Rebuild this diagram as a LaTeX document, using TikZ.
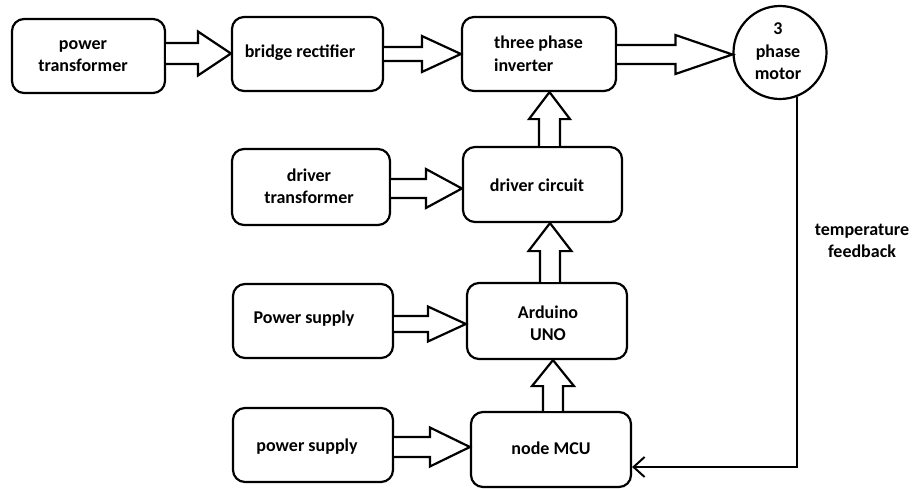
\documentclass[tikz,border=0pt]{standalone}
\usepackage{fontspec}
\setmainfont{Carlito}
\usetikzlibrary{calc,arrows.meta}
\tikzset{
  box/.style={draw, line width=2.2pt, rounded corners=12pt, minimum width=#1, inner sep=0pt},
  txt/.style={font=\bfseries\fontsize{18}{22.5}\selectfont, align=center, inner sep=0pt},
  blk/.style={draw, line width=2.2pt, fill=white, line join=miter},
  fbline/.style={draw, line width=2.2pt, -{Straight Barb[length=11pt,width=20pt,line width=2pt]}}
}
% horizontal block arrow: src, dst, y, shaft half, head half, head length
\newcommand\hblk[6]{%
  \path (#2.west |- 0,#3) coordinate (t);
  \path (#1.east |- t) coordinate (s);
  \draw[blk] ($(s)+(0,#4)$) -- ($(t)+(-#6,#4)$) -- ($(t)+(-#6,#5)$) -- (t)
    -- ($(t)+(-#6,-#5)$) -- ($(t)+(-#6,-#4)$) -- ($(s)+(0,-#4)$);
}
% vertical block arrow (upwards): src, dst, x, shaft half, head half, head length
\newcommand\vblk[6]{%
  \path (#2.south -| #3,0) coordinate (t);
  \path (#1.north -| t) coordinate (s);
  \draw[blk] ($(s)+(#4,0)$) -- ($(t)+(#4,#6)$) -- ($(t)+(#5,#6)$) -- (t)
    -- ($(t)+(-#5,#6)$) -- ($(t)+(-#4,#6)$) -- ($(s)+(-#4,0)$);
}
\begin{document}
\begin{tikzpicture}[x=1pt,y=-1pt]
\useasboundingbox (0,0) rectangle (914,488);
% boxes
\node[box=153pt, minimum height=74pt] (pt)  at (88.5,56) {};
\node[box=151pt, minimum height=74pt] (br)  at (307.5,54) {};
\node[box=154pt, minimum height=74pt] (inv) at (539,54) {};
\node[draw, line width=2.2pt, circle, minimum size=93pt, inner sep=0pt] (motor) at (780,52.5) {};
\node[box=158pt, minimum height=76pt] (dt)  at (311,187) {};
\node[box=159pt, minimum height=75pt] (dc)  at (542.5,184.5) {};
\node[box=160pt, minimum height=74pt] (ps1) at (313,321) {};
\node[box=160pt, minimum height=76pt] (ard) at (547,321) {};
\node[box=160pt, minimum height=74pt] (ps2) at (313,445) {};
\node[box=160pt, minimum height=75pt] (mcu) at (551,449.5) {};
% texts
\node[txt] (pt-t)  at (83,56) {power\\transformer};
\node[txt] (br-t)  at (300,53) {bridge rectifier};
\node[txt, align=left] (inv-t) at (538.5,53.5) {three phase\\inverter};
\node[txt] (mot-t) at (778,51.5) {3\\phase\\motor};
\node[txt] (dt-t)  at (309,186) {driver\\transformer};
\node[txt] (dc-t)  at (537,185) {driver circuit};
\node[txt] (ps1-t) at (304,319) {Power supply};
\node[txt] (ard-t) at (548,323) {Arduino\\UNO};
\node[txt] (ps2-t) at (307,447) {power supply};
\node[txt] (mcu-t) at (551,448) {node MCU};
\node[txt] (fb-t)  at (862,241) {temperature\\feedback};
% block arrows
\hblk{pt}{br}{53.5}{10.5}{22}{33}
\hblk{br}{inv}{54}{7}{18}{39}
\hblk{inv}{motor}{54.5}{9.5}{19.5}{57}
\hblk{dt}{dc}{188.5}{9.5}{19.5}{36}
\hblk{ps1}{ard}{324}{8}{17.5}{38}
\hblk{ps2}{mcu}{447}{10}{19.5}{40}
\vblk{dc}{inv}{549.5}{10.5}{20.5}{27}
\vblk{ard}{dc}{550}{10}{21.5}{28}
\vblk{mcu}{ard}{553}{10}{21}{26}
% feedback
\coordinate (fbrow) at (0,467);
\draw[fbline] (motor.-69) |- (mcu.east |- fbrow);
\end{tikzpicture}
\end{document}
